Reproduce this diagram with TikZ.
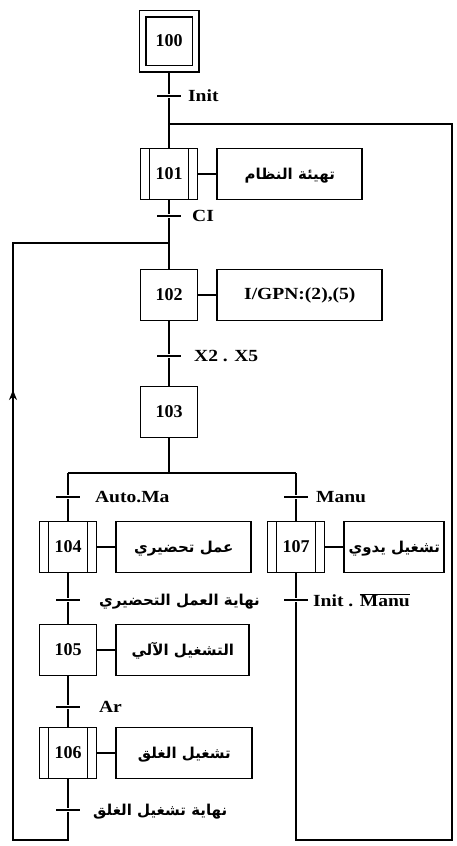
\documentclass[tikz,border=0pt]{standalone}
\usepackage{fontspec}
\setmainfont{Liberation Serif}
\newfontfamily\condfont{Liberation Serif}[FakeStretch=1.15]
\newfontfamily\arabicfont[Script=Arabic]{DejaVu Sans}
\TeXXeTstate=1
\usetikzlibrary{positioning}
\usetikzlibrary{arrows.meta}

\begin{document}
\begin{tikzpicture}[x=1pt, y=-1pt, line width=1.8pt,
  every node/.style={font=\fontsize{18}{20}\selectfont\bfseries},
  stepbox/.style={draw, minimum width=57pt, minimum height=51pt, inner sep=0pt},
  initstep/.style={draw, double, double distance=5pt, line width=1.5pt, outer sep=4pt, minimum width=53pt, minimum height=55pt, inner sep=0pt},
  macrostep/.style={stepbox, path picture={
    \draw[line width=1.4pt] ([xshift=9pt]path picture bounding box.north west) -- ([xshift=9pt]path picture bounding box.south west)
          ([xshift=-9pt]path picture bounding box.north east) -- ([xshift=-9pt]path picture bounding box.south east);}},
  actbox/.style={draw, minimum height=51pt, inner sep=0pt},
  cond/.style={font=\condfont\fontsize{17}{20}\selectfont\bfseries},
  arab/.style={font=\arabicfont\fontsize{15}{18}\selectfont\bfseries, text height=12pt, text depth=2pt},
  trans/.style={fill=black, minimum width=24pt, minimum height=2.8pt, inner sep=0pt}]
  \useasboundingbox (0,0) rectangle (456,846);

  % main column
  \node[initstep] (s100) at (169,41) {100};
  \node[trans] (t0) at (169,96) {};
  \node[cond, right=2pt of t0] {Init};
  \node[macrostep] (s101) at (169,174) {101};
  \node[actbox, arab, minimum width=145pt, right=18pt of s101] (a101) {\beginR تهيئة النظام\endR};
  \node[trans] (t1) at (169,216) {};
  \node[cond, right=6pt of t1] {CI};
  \node[stepbox] (s102) at (169,295) {102};
  \node[actbox, cond, minimum width=165pt, right=18pt of s102] (a102) {I/GPN:(2),(5)};
  \node[trans] (t2) at (169,356) {};
  \node[cond, right=8pt of t2] {X2 . X5};
  \node[stepbox] (s103) at (169,412) {103};

  % left branch
  \node[trans] (t3) at (68,497) {};
  \node[cond, right=10pt of t3] {Auto.Ma};
  \node[macrostep] (s104) at (68,547) {104};
  \node[actbox, arab, minimum width=135pt, right=18pt of s104] (a104) {\beginR عمل تحضيري\endR};
  \node[trans] (t5) at (68,600) {};
  \node[arab, right=14pt of t5] {\beginR نهاية العمل التحضيري\endR};
  \node[stepbox] (s105) at (68,650) {105};
  \node[actbox, arab, minimum width=133pt, right=18pt of s105] (a105) {\beginR التشغيل الآلي\endR};
  \node[trans] (t7) at (68,707) {};
  \node[cond, right=14pt of t7] {Ar};
  \node[macrostep] (s106) at (68,753) {106};
  \node[actbox, arab, minimum width=136pt, right=18pt of s106] (a106) {\beginR تشغيل الغلق\endR};
  \node[trans] (t8) at (68,810) {};
  \node[arab, right=8pt of t8] {\beginR نهاية تشغيل الغلق\endR};

  % right branch
  \node[trans] (t4) at (296,497) {};
  \node[cond, right=3pt of t4] {Manu};
  \node[macrostep] (s107) at (296,547) {107};
  \node[actbox, arab, minimum width=100pt, right=18pt of s107] (a107) {\beginR تشغيل يدوي\endR};
  \node[trans] (t6) at (296,600) {};
  \node[cond, right=0pt of t6] {Init . $\overline{\mbox{Manu}}$};

  \coordinate (jR) at (169,124);
  \coordinate (jL) at (169,243);
  \coordinate (d1) at (169,473);
  \coordinate (d4) at (68,473);
  \coordinate (d7) at (296,473);
  \coordinate (b4) at (68,840);
  \coordinate (bL) at (13,840);
  \coordinate (cL) at (13,243);
  \coordinate (aL) at (13,390);
  \coordinate (b7) at (296,840);
  \coordinate (bR) at (452,840);
  \coordinate (cR) at (452,124);

  \draw (s100) -- (t0) -- (s101);
  \draw (s101) -- (a101);
  \draw (s101) -- (t1) -- (s102);
  \draw (s102) -- (a102);
  \draw (s102) -- (t2) -- (s103);
  \draw (s103) -- (d1);
  \draw (d4) -- (d7);
  \draw (d4) -- (t3) -- (s104);
  \draw (s104) -- (a104);
  \draw (s104) -- (t5) -- (s105);
  \draw (s105) -- (a105);
  \draw (s105) -- (t7) -- (s106);
  \draw (s106) -- (a106);
  \draw (s106) -- (t8) -- (b4) -- (bL) -- (cL) -- (jL);
  \draw[-{Stealth[length=10pt,width=8pt]}] (bL) -- (aL);
  \draw (d7) -- (t4) -- (s107);
  \draw (s107) -- (a107);
  \draw (s107) -- (t6) -- (b7) -- (bR) -- (cR) -- (jR);
\end{tikzpicture}
\end{document}
